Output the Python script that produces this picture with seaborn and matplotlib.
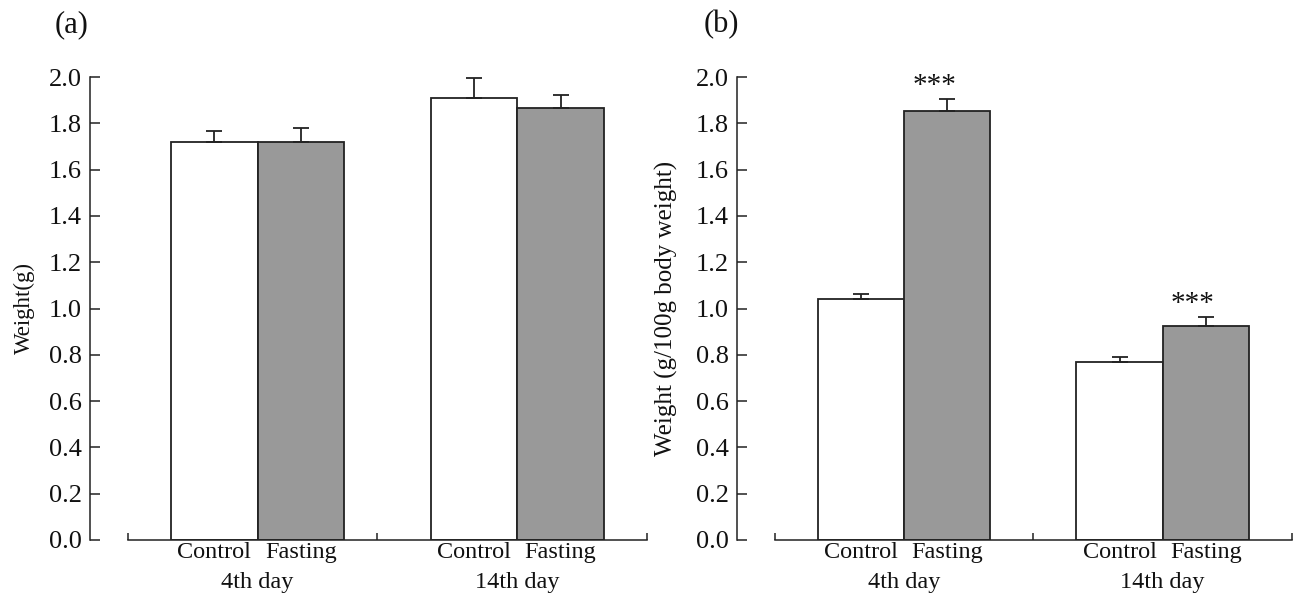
import numpy as np
import pandas as pd
import matplotlib
matplotlib.use("Agg")
import matplotlib.pyplot as plt
import matplotlib.transforms as mtransforms
import seaborn as sns

# ---------------- data ----------------
days = ["4th day", "14th day"]
groups = ["Control", "Fasting"]

# panel (a): Weight (g)
a_control = [1.72, 1.91]
a_fasting = [1.72, 1.865]
a_control_err = [0.045, 0.085]
a_fasting_err = [0.06, 0.057]

# panel (b): Weight (g/100g body weight)
b_control = [1.04, 0.77]
b_fasting = [1.855, 0.925]
b_control_err = [0.022, 0.02]
b_fasting_err = [0.05, 0.04]
b_signif = ["***", "***"]

yticks = [0.0, 0.2, 0.4, 0.6, 0.8, 1.0, 1.2, 1.4, 1.6, 1.8, 2.0]

sns.set_theme(style="ticks")
plt.rcParams["font.family"] = ["Liberation Serif", "DejaVu Serif"]
plt.rcParams["axes.edgecolor"] = "#222222"

W, H = 1294, 608
fig = plt.figure(figsize=(W / 100, H / 100), dpi=100)

def px_axes(left, right, top, bottom):
    return fig.add_axes([left / W, 1 - bottom / H, (right - left) / W, (bottom - top) / H])

ax_a = px_axes(90, 647, 77, 540)
ax_b = px_axes(737, 1292, 77, 540)

def draw(ax, ctrl, fast, ctrl_err, fast_err, ylabel, ylabel_x, ylabel_size, mid_tick, signif=None):
    df = pd.DataFrame({
        "day": days * 2,
        "group": [groups[0]] * 2 + [groups[1]] * 2,
        "value": list(ctrl) + list(fast),
    })
    sns.barplot(data=df, x="day", y="value", hue="group", order=days, hue_order=groups,
                palette=["white", "#999999"], edgecolor="#222222", linewidth=1.3,
                width=0.667, errorbar=None, legend=False, ax=ax, saturation=1)
    patches = list(ax.patches)
    xs = [p.get_x() + p.get_width() / 2 for p in patches]
    vals = list(ctrl) + list(fast)
    errs = list(ctrl_err) + list(fast_err)
    ax.errorbar(xs, vals, yerr=[np.zeros(len(errs)), errs], fmt="none",
                ecolor="#222222", elinewidth=1.3, capsize=6, capthick=1.3, zorder=3)
    if signif is not None:
        for i, s in enumerate(signif):
            ax.text(xs[2 + i] - 0.05, vals[2 + i] + errs[2 + i] - 0.002, s, ha="center",
                    va="bottom", fontsize=21, color="#111111")

    ax.set_ylim(0, 2.0)
    ax.set_xlim(-0.646, 1.497)
    ax.set_yticks(yticks)
    ax.set_yticklabels([f"{t:.1f}" for t in yticks], fontsize=19)
    ax.tick_params(axis="y", direction="in", length=7, width=1.1, pad=6, colors="#222222",
                   labelcolor="#111111")
    ax.set_xticks([-0.5, mid_tick, 1.5])
    ax.set_xticklabels([])
    ax.tick_params(axis="x", direction="in", length=5, width=1.1, colors="#222222")
    for sp in ["top", "right"]:
        ax.spines[sp].set_visible(False)
    ax.spines["bottom"].set_bounds(-0.5, 1.5)
    ax.spines["left"].set_linewidth(1.1)
    ax.spines["bottom"].set_linewidth(1.1)
    ax.set_xlabel("")
    ax.set_ylabel(ylabel, fontsize=ylabel_size, color="#111111")
    ax.yaxis.set_label_coords(ylabel_x, 0.5)

    trans = mtransforms.blended_transform_factory(ax.transData, ax.transAxes)
    for i, x in enumerate(xs):
        ax.text(x, -0.004, groups[i // 2], transform=trans, ha="center", va="top",
                fontsize=17.5, color="#111111")
    for j, d in enumerate(days):
        ax.text(j, -0.07, d, transform=trans, ha="center", va="top",
                fontsize=17.5, color="#111111")

draw(ax_a, a_control, a_fasting, a_control_err, a_fasting_err, "Weight(g)", -0.099, 16.5, 0.46)
draw(ax_b, b_control, b_fasting, b_control_err, b_fasting_err,
     "Weight (g/100g body weight)", -0.106, 18, 0.5, signif=b_signif)

fig.text(72 / W, 1 - 25 / H, "(a)", ha="center", va="center", fontsize=22, color="#111111")
fig.text(721 / W, 1 - 25 / H, "(b)", ha="center", va="center", fontsize=22, color="#111111")

fig.savefig("out.png", dpi=100)
